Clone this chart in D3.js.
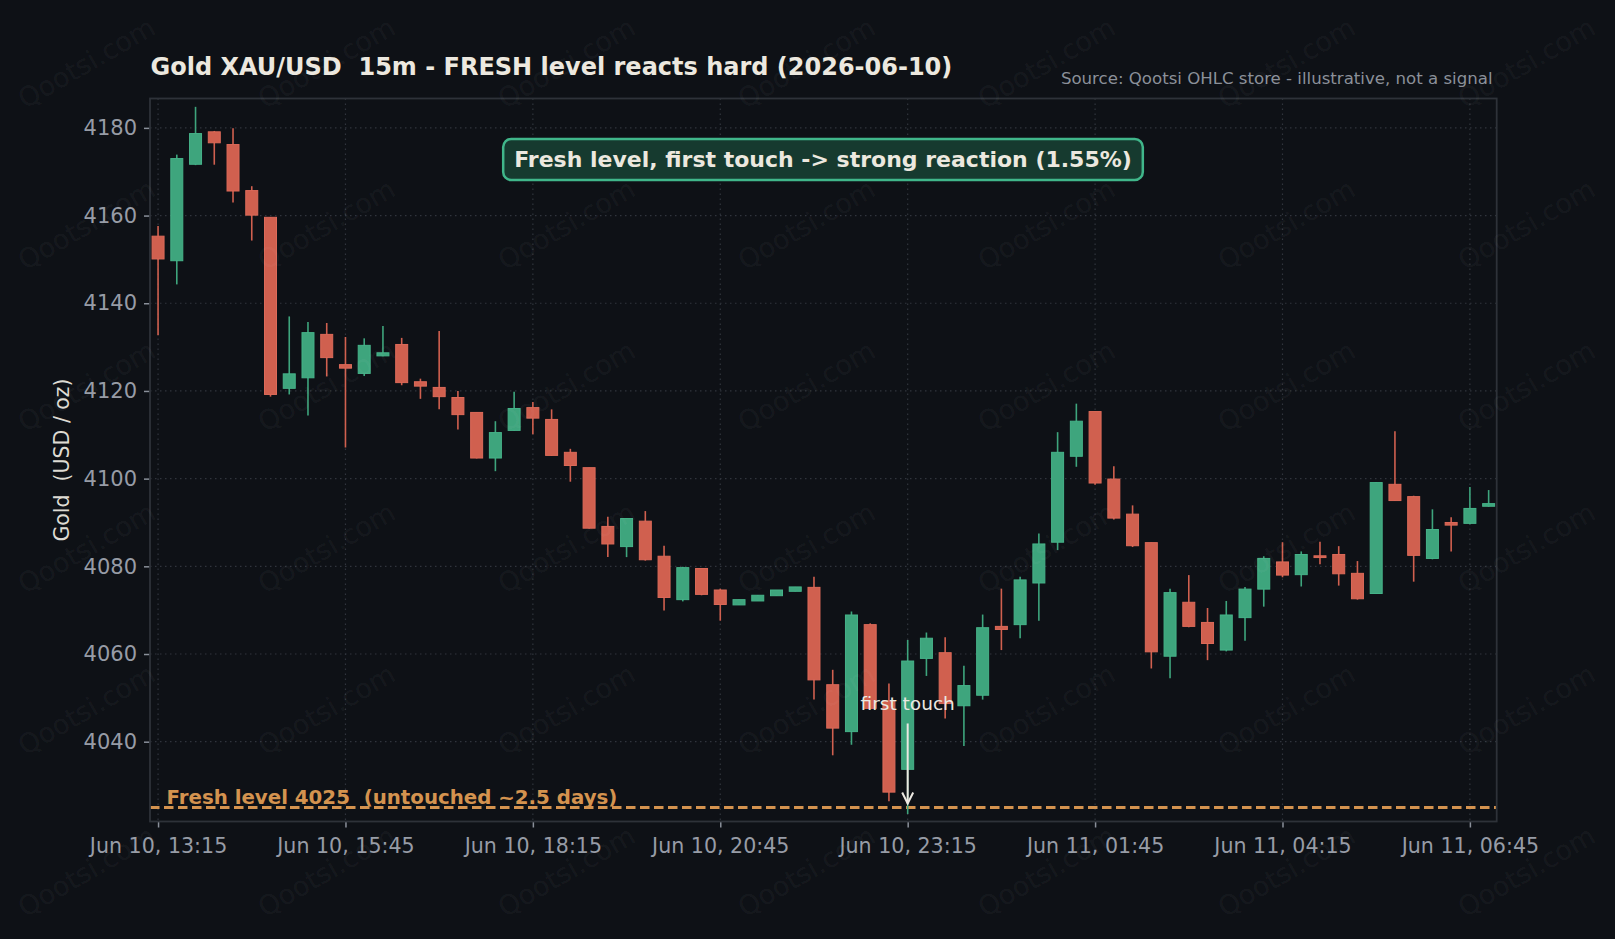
<!DOCTYPE html>
<html>
<head>
<meta charset="utf-8">
<script src="https://cdn.jsdelivr.net/npm/d3@7"></script>
<style>
  body { margin: 0; background: #0e1116; }
  svg { display: block; font-family: "DejaVu Sans", sans-serif; }
  svg text { white-space: pre; }
</style>
</head>
<body>
<svg id="chart"></svg>
<script>
// 15m candles, Jun 10 13:15 -> Jun 11 07:00
const opens  = [4155.3,4149.7,4171.7,4179.1,4176.2,4165.7,4159.6,4120.6,4123.0,4132.9,4126.0,4124.0,4128.0,4130.6,4122.1,4120.8,4118.5,4115.1,4104.7,4111.0,4116.2,4113.5,4106.0,4102.5,4089.1,4084.5,4090.3,4082.3,4072.4,4079.5,4074.6,4071.2,4072.1,4073.3,4074.3,4075.2,4053.0,4042.3,4066.7,4049.3,4033.7,4059.0,4060.3,4048.2,4050.6,4066.3,4066.7,4076.2,4085.5,4105.1,4115.3,4099.9,4091.9,4085.4,4059.5,4071.8,4067.2,4060.9,4068.3,4074.8,4081.0,4078.1,4082.4,4082.7,4078.4,4073.8,4098.7,4095.9,4081.8,4090.0,4089.8,4093.7];
const highs  = [4157.6,4173.9,4184.8,4179.3,4179.9,4166.7,4159.6,4137.0,4135.7,4135.5,4132.3,4132.0,4134.8,4132.1,4122.8,4133.7,4120.0,4115.1,4113.1,4119.8,4117.5,4115.8,4106.8,4102.5,4091.3,4091.0,4092.6,4084.7,4079.9,4079.5,4074.9,4072.4,4073.4,4074.6,4075.3,4077.6,4056.4,4069.7,4067.0,4053.3,4063.2,4064.9,4063.8,4057.3,4069.0,4074.9,4077.6,4087.5,4110.6,4117.1,4115.3,4102.8,4093.9,4085.4,4074.9,4078.0,4070.5,4072.1,4075.3,4082.3,4085.5,4083.4,4085.6,4084.6,4081.2,4099.2,4110.8,4096.1,4093.0,4091.2,4098.1,4097.4];
const lows   = [4132.7,4144.3,4171.5,4171.6,4163.0,4154.3,4118.7,4119.2,4114.4,4123.3,4107.1,4123.4,4127.9,4121.3,4118.2,4115.8,4111.2,4104.6,4101.7,4110.9,4110.1,4105.2,4099.3,4088.6,4082.1,4082.1,4081.3,4069.9,4072.0,4073.4,4067.6,4071.2,4072.1,4073.3,4074.3,4049.6,4036.9,4039.3,4047.4,4026.4,4023.5,4055.0,4045.3,4039.0,4049.6,4060.9,4063.6,4067.6,4083.7,4102.7,4098.6,4090.7,4084.4,4056.7,4054.5,4066.1,4058.6,4060.6,4063.0,4070.8,4077.5,4075.4,4080.5,4075.6,4072.4,4073.7,4094.9,4076.5,4081.6,4083.4,4089.6,4093.6];
const closes = [4150.1,4173.0,4178.7,4176.6,4165.6,4160.1,4119.2,4123.9,4133.3,4127.6,4125.2,4130.4,4128.7,4121.9,4121.1,4118.7,4114.6,4104.7,4110.5,4116.0,4113.8,4105.3,4103.0,4088.7,4085.1,4090.9,4081.5,4072.9,4079.7,4073.6,4071.3,4072.4,4073.4,4074.6,4075.3,4054.1,4043.1,4068.9,4047.6,4028.5,4058.4,4063.6,4048.7,4052.8,4066.0,4065.6,4076.9,4085.1,4106.0,4113.1,4099.0,4091.0,4084.7,4060.5,4074.0,4066.3,4062.4,4068.9,4074.8,4081.8,4078.0,4082.7,4082.0,4078.3,4072.6,4099.1,4095.0,4082.5,4088.4,4089.4,4093.2,4094.3];

const startTime = new Date(2026, 5, 10, 13, 15);
const barMinutes = 15;
const xTickIndex = [0, 10, 20, 30, 40, 50, 60, 70];
const yTicks = [4040, 4060, 4080, 4100, 4120, 4140, 4160, 4180];

const freshLevel = 4025;
const touchIndex = 40;
const titleText = "Gold XAU/USD  15m - FRESH level reacts hard (2026-06-10)";
const sourceText = "Source: Qootsi OHLC store - illustrative, not a signal";
const boxText = "Fresh level, first touch -> strong reaction (1.55%)";
const levelText = "Fresh level 4025  (untouched ~2.5 days)";

const W = 1615, H = 939;
const margin = { top: 98.5, right: 118.3, bottom: 117.5, left: 150 };
const innerW = W - margin.left - margin.right;
const innerH = H - margin.top - margin.bottom;

const BG = "#0e1116", UP = "#3ea57d", DOWN = "#d0604f";
const UP_EDGE = "#46b389", DOWN_EDGE = "#dc6a59";
const ORANGE = "#d4934f";

const candles = opens.map((o, i) => ({
  i: i,
  t: new Date(startTime.getTime() + i * barMinutes * 60000),
  o: o, h: highs[i], l: lows[i], c: closes[i]
}));

const svg = d3.select("#chart").attr("width", W).attr("height", H);
svg.append("rect").attr("width", W).attr("height", H).attr("fill", BG);

const g = svg.append("g").attr("transform", "translate(" + margin.left + "," + margin.top + ")");

const step = barMinutes * 60000;
const x = d3.scaleTime()
  .domain([new Date(startTime.getTime() - 0.43 * step), new Date(startTime.getTime() + 71.43 * step)])
  .range([0, innerW]);
const y = d3.scaleLinear().domain([4021.8, 4186.7]).range([innerH, 0]);
const barW = 0.64 * (x(candles[1].t) - x(candles[0].t));

// grid
g.append("g").selectAll("line.gy").data(yTicks).enter().append("line")
  .attr("x1", 0).attr("x2", innerW)
  .attr("y1", d => y(d)).attr("y2", d => y(d))
  .attr("stroke", "#30353d").attr("stroke-width", 1.2).attr("stroke-dasharray", "1.5,3.5");
g.append("g").selectAll("line.gx").data(xTickIndex).enter().append("line")
  .attr("x1", d => x(candles[d].t)).attr("x2", d => x(candles[d].t))
  .attr("y1", 0).attr("y2", innerH)
  .attr("stroke", "#30353d").attr("stroke-width", 1.2).attr("stroke-dasharray", "1.5,3.5");

// fresh level line
g.append("line")
  .attr("x1", 0).attr("x2", innerW)
  .attr("y1", y(freshLevel)).attr("y2", y(freshLevel))
  .attr("stroke", ORANGE).attr("stroke-width", 3).attr("stroke-dasharray", "9.5,4.5");

// candles
const cg = g.append("g").selectAll("g").data(candles).enter().append("g");
cg.append("line")
  .attr("x1", d => x(d.t)).attr("x2", d => x(d.t))
  .attr("y1", d => y(d.h)).attr("y2", d => y(d.l))
  .attr("stroke", d => d.c >= d.o ? UP : DOWN).attr("stroke-width", 1.6);
cg.append("rect")
  .attr("x", d => x(d.t) - barW / 2)
  .attr("width", barW)
  .attr("y", d => y(Math.max(d.o, d.c)))
  .attr("height", d => Math.max(1, Math.abs(y(d.o) - y(d.c))))
  .attr("fill", d => d.c >= d.o ? UP : DOWN)
  .attr("stroke", d => d.c >= d.o ? UP_EDGE : DOWN_EDGE)
  .attr("stroke-width", 1);

// level label
g.append("text")
  .attr("x", 16.5).attr("y", y(freshLevel) - 3.5)
  .attr("fill", ORANGE).attr("font-weight", "bold").attr("font-size", 19.8)
  .text(levelText);

// first touch annotation
const tx = x(candles[touchIndex].t);
g.append("text")
  .attr("x", tx).attr("y", y(freshLevel) - 97)
  .attr("text-anchor", "middle").attr("fill", "#ebe8e1").attr("font-size", 18.5)
  .text("first touch");
const tipY = y(freshLevel) - 4;
g.append("line").attr("x1", tx).attr("x2", tx)
  .attr("y1", y(freshLevel) - 84).attr("y2", tipY)
  .attr("stroke", "#ebe8e1").attr("stroke-width", 2);
g.append("path")
  .attr("d", "M" + (tx - 5.5) + "," + (tipY - 11) + "L" + tx + "," + tipY + "L" + (tx + 5.5) + "," + (tipY - 11))
  .attr("fill", "none").attr("stroke", "#ebe8e1").attr("stroke-width", 2);

// reaction box
const boxG = g.append("g");
const bt = boxG.append("text")
  .attr("x", 673).attr("y", 68.5)
  .attr("text-anchor", "middle").attr("fill", "#ece8df")
  .attr("font-weight", "bold").attr("font-size", 22)
  .text(boxText);
const bb = bt.node().getBBox();
boxG.insert("rect", "text")
  .attr("x", bb.x - 11).attr("y", 40.5)
  .attr("width", bb.width + 22).attr("height", 41)
  .attr("rx", 8).attr("ry", 8)
  .attr("fill", "#163a2f").attr("stroke", "#40b68a").attr("stroke-width", 2.5);

// axes
const xAxis = d3.axisBottom(x)
  .tickValues(xTickIndex.map(i => candles[i].t))
  .tickFormat(d3.timeFormat("%b %d, %H:%M"))
  .tickSize(6).tickPadding(11);
const gx = g.append("g").attr("transform", "translate(0," + innerH + ")").call(xAxis);
gx.select(".domain").remove();
gx.selectAll("line").attr("stroke", "#8a909a").attr("stroke-width", 1.5);
gx.selectAll("text").attr("fill", "#979ca6").attr("font-size", 20.6).attr("font-family", "DejaVu Sans");

const yAxis = d3.axisLeft(y).tickValues(yTicks).tickFormat(d3.format("d")).tickSize(6).tickPadding(7);
const gy = g.append("g").call(yAxis);
gy.select(".domain").remove();
gy.selectAll("line").attr("stroke", "#8a909a").attr("stroke-width", 1.5);
gy.selectAll("text").attr("fill", "#979ca6").attr("font-size", 21).attr("font-family", "DejaVu Sans");

// spines
g.append("rect").attr("width", innerW).attr("height", innerH)
  .attr("fill", "none").attr("stroke", "#2e3239").attr("stroke-width", 1.8);

// y label
svg.append("text")
  .attr("transform", "translate(69," + (margin.top + innerH / 2) + ") rotate(-90)")
  .attr("text-anchor", "middle").attr("fill", "#dedbd3").attr("font-size", 20.5)
  .text("Gold  (USD / oz)");

// title + source
svg.append("text").attr("x", 150.5).attr("y", 75)
  .attr("fill", "#ece8df").attr("font-weight", "bold").attr("font-size", 24)
  .text(titleText);
svg.append("text").attr("x", 1492.5).attr("y", 83.5)
  .attr("text-anchor", "end").attr("fill", "#8b9099").attr("font-size", 16.6)
  .text(sourceText);

// watermark
const wm = svg.append("g").attr("pointer-events", "none");
for (let r = 0; r < 6; r++) {
  for (let c = 0; c < 7; c++) {
    const wx = 86.5 + c * 240, wy = 62.8 + r * 161.7;
    wm.append("text")
      .attr("transform", "translate(" + wx + "," + wy + ") rotate(-30)")
      .attr("text-anchor", "middle").attr("dy", "0.35em")
      .attr("font-size", 27).attr("fill", "#ffffff").attr("fill-opacity", 0.055)
      .text("Qootsi.com");
  }
}
</script>
</body>
</html>
